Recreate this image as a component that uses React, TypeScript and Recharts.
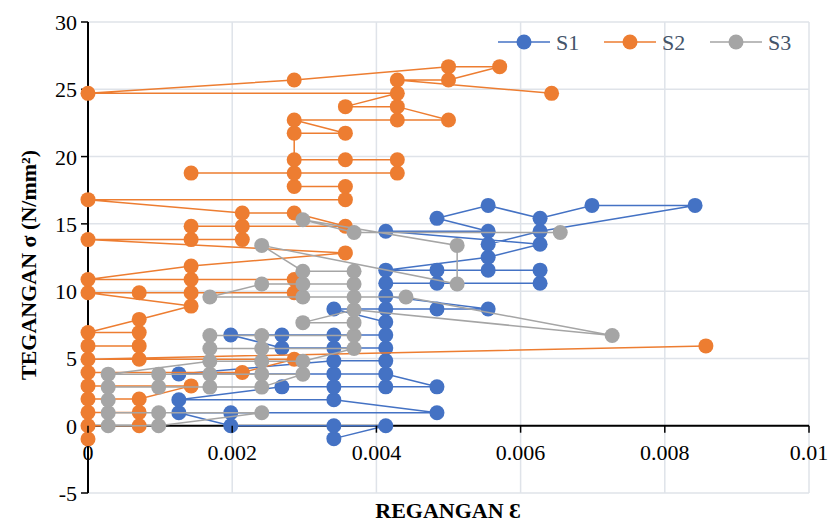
import React from "react";
import { ScatterChart, Scatter, XAxis, YAxis, CartesianGrid, ReferenceLine } from "recharts";

// strain / stress readings, [strain, stress] in recording order
const strainTicks = [0, 0.002, 0.004, 0.006, 0.008, 0.01];
const stressTicks = [-5, 0, 5, 10, 15, 20, 25, 30];

const s1Points = [
    [0.00341, -0.96], [0.00413, 0], [0.00341, 0], [0.00198, 0], [0.00126, 0.96], [0.00198, 0.96],
    [0.00484, 0.96], [0.00341, 1.93], [0.00126, 1.93], [0.00269, 2.89], [0.00341, 2.89], [0.00413, 2.89],
    [0.00484, 2.89], [0.00413, 3.85], [0.00341, 3.85], [0.00126, 3.85], [0.00341, 4.82], [0.00413, 4.82],
    [0.00413, 5.78], [0.00341, 5.78], [0.00269, 5.78], [0.00198, 6.74], [0.00269, 6.74], [0.00341, 6.74],
    [0.00413, 6.74], [0.00413, 7.7], [0.00341, 8.67], [0.00413, 8.67], [0.00484, 8.67], [0.00555, 8.67],
    [0.00413, 9.63], [0.00413, 10.59], [0.00484, 10.59], [0.00627, 10.59], [0.00627, 11.56], [0.00555, 11.56],
    [0.00484, 11.56], [0.00413, 11.56], [0.00555, 12.52], [0.00627, 13.48], [0.00413, 14.45], [0.00555, 14.45],
    [0.00484, 15.41], [0.00555, 16.37], [0.00627, 15.41], [0.00699, 16.37], [0.00842, 16.37], [0.00627, 14.45],
    [0.00555, 13.48],
];

const s2Points = [
    [0.00857, 5.93], [0, 4.94], [0.00071, 4.94], [0.00286, 4.94], [0.00214, 3.95], [0, 3.95], [0, 2.96],
    [0.00143, 2.96], [0.00071, 1.98], [0, 1.98], [0, 0.99], [0.00071, 0.99], [0.00071, 0], [0, 0], [0, -0.99],
    [0, 5.93], [0.00071, 5.93], [0.00071, 6.92], [0, 6.92], [0.00071, 7.9], [0.00143, 8.89], [0, 9.88],
    [0.00071, 9.88], [0.00143, 9.88], [0.00286, 9.88], [0.00286, 10.87], [0.00143, 10.87], [0, 10.87],
    [0.00143, 11.86], [0.00357, 12.84], [0, 13.83], [0.00143, 13.83], [0.00214, 13.83], [0.00214, 14.82],
    [0.00143, 14.82], [0.00357, 14.82], [0.00286, 15.81], [0.00214, 15.81], [0, 16.8], [0.00357, 16.8],
    [0.00357, 17.78], [0.00286, 17.78], [0.00286, 18.77], [0.00143, 18.77], [0.00429, 18.77], [0.00429, 19.76],
    [0.00357, 19.76], [0.00286, 19.76], [0.00286, 21.74], [0.00357, 21.74], [0.00286, 22.72], [0.00429, 22.72],
    [0.005, 22.72], [0.00429, 23.71], [0.00357, 23.71], [0.00429, 24.7], [0, 24.7], [0.00286, 25.69],
    [0.005, 26.68], [0.00571, 26.68], [0.005, 25.69], [0.00429, 25.69], [0.00643, 24.7],
];

const s3Points = [
    [0.00028, 0], [0.00098, 0], [0.00241, 0.96], [0.00098, 0.96], [0.00028, 0.96], [0.00028, 1.91],
    [0.00028, 2.87], [0.00098, 2.87], [0.00169, 2.87], [0.00241, 2.87], [0.00298, 3.83], [0.00241, 3.83],
    [0.00169, 3.83], [0.00098, 3.83], [0.00028, 3.83], [0.00169, 4.79], [0.00241, 4.79], [0.00298, 4.79],
    [0.00369, 5.74], [0.00241, 5.74], [0.00169, 5.74], [0.00169, 6.7], [0.00241, 6.7], [0.00369, 6.7],
    [0.00369, 7.66], [0.00298, 7.66], [0.00369, 8.61], [0.00727, 6.7], [0.00441, 9.57], [0.00369, 9.57],
    [0.00298, 9.57], [0.00169, 9.57], [0.00241, 10.53], [0.00298, 10.53], [0.00369, 10.53], [0.00369, 11.48],
    [0.00298, 11.48], [0.00241, 13.4], [0.00512, 10.53], [0.00512, 13.4], [0.00298, 15.31], [0.00369, 14.36],
    [0.00655, 14.36],
];

const COLORS = { S1: "#4472C4", S2: "#ED7D31", S3: "#A5A5A5" };
const FONT = "'Liberation Serif', 'Times New Roman', serif";

const W = 830;
const H = 525;
const TOP = 22;
const PLOT_H = 471;
// pixel row of stress = 0, where the horizontal axis crosses
const ZERO_Y = TOP + PLOT_H * (30 / 35);

const toRows = (pts: number[][]) => pts.map(([x, y]) => ({ x, y }));

const dot = (color: string) => (props: any) =>
    <circle cx={props.cx} cy={props.cy} r={7.5} fill={color} />;

const StrainTick = (props: any) => {
    const { x, payload } = props;
    return (
        <g>
            <line x1={x} x2={x} y1={ZERO_Y} y2={ZERO_Y + 7} stroke="#000" strokeWidth={1.5} />
            <text x={x} y={ZERO_Y + 34} textAnchor="middle" fill="#000" style={{ fontSize: 22, fontFamily: FONT }}>
                {payload.value}
            </text>
        </g>
    );
};

const StressTick = (props: any) => {
    const { x, y, payload } = props;
    return (
        <text x={x} y={y} dy={8} textAnchor="end" fill="#000" style={{ fontSize: 22, fontFamily: FONT }}>
            {payload.value}
        </text>
    );
};

const series = [
    { name: "S1", data: toRows(s1Points) },
    { name: "S2", data: toRows(s2Points) },
    { name: "S3", data: toRows(s3Points) },
];

export default function App() {
    return (
        <div style={{ position: "absolute", left: 0, top: 0, width: W, height: H, background: "#fff" }}>
            <ScatterChart width={W} height={H} margin={{ top: TOP, right: 21, bottom: 0, left: 0 }}>
                <CartesianGrid stroke="#dfe3e9" strokeWidth={1.5} />
                <XAxis
                    type="number"
                    dataKey="x"
                    domain={[0, 0.01]}
                    ticks={strainTicks}
                    height={32}
                    axisLine={false}
                    tickLine={false}
                    tick={<StrainTick />}
                    interval={0}
                />
                <YAxis
                    type="number"
                    dataKey="y"
                    domain={[-5, 30]}
                    ticks={stressTicks}
                    width={88}
                    interval={0}
                    axisLine={{ stroke: "#000", strokeWidth: 2 }}
                    tickLine={{ stroke: "#000", strokeWidth: 1.5 }}
                    tickSize={7}
                    tickMargin={4}
                    tick={<StressTick />}
                />
                <ReferenceLine y={0} stroke="#000" strokeWidth={2} />
                {series.map((s) => {
                    const c = COLORS[s.name as keyof typeof COLORS];
                    return (
                        <Scatter
                            key={s.name}
                            name={s.name}
                            data={s.data}
                            fill={c}
                            line={{ stroke: c, strokeWidth: 1.5 }}
                            shape={dot(c)}
                            isAnimationActive={false}
                        />
                    );
                })}
            </ScatterChart>
            <svg width={W} height={H} style={{ position: "absolute", left: 0, top: 0, pointerEvents: "none" }}>
                {series.map((s, i) => {
                    const x0 = 498 + i * 106;
                    const c = COLORS[s.name as keyof typeof COLORS];
                    return (
                        <g key={s.name}>
                            <line x1={x0} x2={x0 + 52} y1={42} y2={42} stroke={c} strokeWidth={1.5} />
                            <circle cx={x0 + 26} cy={42} r={7.5} fill={c} />
                            <text x={x0 + 58} y={50} fill="#44546A" style={{ fontSize: 22, fontFamily: FONT }}>{s.name}</text>
                        </g>
                    );
                })}
                <text x={448} y={518} textAnchor="middle" fill="#000" style={{ fontSize: 22, fontWeight: "bold", fontFamily: FONT }}>
                    REGANGAN Ɛ
                </text>
                <text
                    x={28}
                    y={265}
                    textAnchor="middle"
                    dominantBaseline="central"
                    transform="rotate(-90 28 265)"
                    fill="#000"
                    style={{ fontSize: 22, fontWeight: "bold", fontFamily: FONT }}
                >
                    TEGANGAN σ (N/mm²)
                </text>
            </svg>
        </div>
    );
}
